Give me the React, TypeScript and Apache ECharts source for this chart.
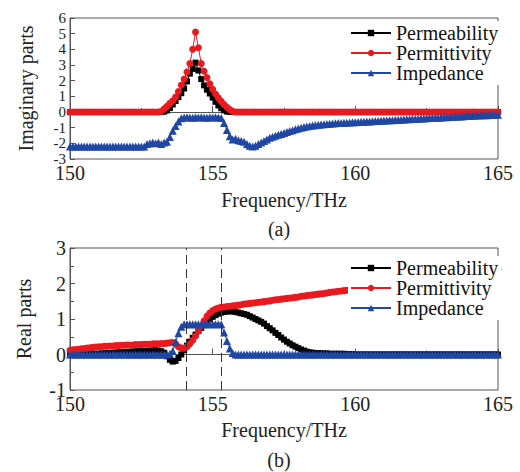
import React, { useEffect, useRef } from "react";
import * as echarts from "echarts";

// Sampling grid of the frequency axis (THz): 150.0 .. 165.0, one sample per 0.1 THz
const FREQ_START = 150;
const FREQ_STEP = 0.1;

// (a) Imaginary parts
const IM_PERMEABILITY = [
  0, 0, 0, 0, 0, 0, 0, 0, 0, 0,
  0, 0, 0, 0, 0, 0, 0, 0, 0, 0,
  0, 0, 0, 0, 0, 0, 0, 0, 0, 0,
  0, 0, 0, 0.02, 0.1, 0.25, 0.48, 0.7, 0.95, 1.2,
  1.5, 1.95, 2.45, 2.75, 3.15, 2.65, 2.1, 1.7, 1.42, 1.18,
  0.92, 0.65, 0.42, 0.24, 0.1, 0.03, 0, 0, 0, 0,
  0, 0, 0, 0, 0, 0, 0, 0, 0, 0,
  0, 0, 0, 0, 0, 0, 0, 0, 0, 0,
  0, 0, 0, 0, 0, 0, 0, 0, 0, 0,
  0, 0, 0, 0, 0, 0, 0, 0, 0, 0,
  0, 0, 0, 0, 0, 0, 0, 0, 0, 0,
  0, 0, 0, 0, 0, 0, 0, 0, 0, 0,
  0, 0, 0, 0, 0, 0, 0, 0, 0, 0,
  0, 0, 0, 0, 0, 0, 0, 0, 0, 0,
  0, 0, 0, 0, 0, 0, 0, 0, 0, 0,
  0,
];
const IM_PERMITTIVITY = [
  0, 0, 0, 0, 0, 0, 0, 0, 0, 0,
  0, 0, 0, 0, 0, 0, 0, 0, 0, 0,
  0, 0, 0, 0, 0, 0, 0, 0, 0, 0,
  0, 0, 0.05, 0.2, 0.36, 0.55, 0.72, 0.95, 1.3, 1.72,
  2.1, 2.55, 3.1, 4.0, 5.1, 4.1, 3.1, 2.6, 2.2, 1.8,
  1.45, 1.15, 0.9, 0.68, 0.48, 0.3, 0.15, 0.05, 0, 0,
  0, 0, 0, 0, 0, 0, 0, 0, 0, 0,
  0, 0, 0, 0, 0, 0, 0, 0, 0, 0,
  0, 0, 0, 0, 0, 0, 0, 0, 0, 0,
  0, 0, 0, 0, 0, 0, 0, 0, 0, 0,
  0, 0, 0, 0, 0, 0, 0, 0, 0, 0,
  0, 0, 0, 0, 0, 0, 0, 0, 0, 0,
  0, 0, 0, 0, 0, 0, 0, 0, 0, 0,
  0, 0, 0, 0, 0, 0, 0, 0, 0, 0,
  0, 0, 0, 0, 0, 0, 0, 0, 0, 0,
  0,
];
const IM_IMPEDANCE = [
  -2.2, -2.2, -2.2, -2.2, -2.2, -2.2, -2.2, -2.2, -2.2, -2.2,
  -2.2, -2.2, -2.2, -2.2, -2.2, -2.2, -2.2, -2.2, -2.2, -2.2,
  -2.2, -2.2, -2.2, -2.2, -2.2, -2.2, -2.2, -2.05, -2.0, -1.95,
  -2.0, -1.95, -2.05, -1.95, -1.9, -1.6, -1.2, -0.9, -0.6, -0.4,
  -0.35, -0.33, -0.35, -0.36, -0.34, -0.35, -0.33, -0.35, -0.36, -0.34,
  -0.35, -0.34, -0.35, -0.38, -0.7, -1.15, -1.55, -1.75, -1.7, -1.8,
  -1.85, -1.9, -2.05, -2.15, -2.2, -2.15, -2.05, -1.95, -1.85, -1.75,
  -1.65, -1.58, -1.52, -1.45, -1.4, -1.34, -1.28, -1.22, -1.16, -1.1,
  -1.05, -1.0, -0.96, -0.92, -0.89, -0.86, -0.84, -0.82, -0.8, -0.78,
  -0.76, -0.75, -0.74, -0.72, -0.71, -0.7, -0.69, -0.68, -0.67, -0.66,
  -0.65, -0.64, -0.63, -0.62, -0.61, -0.6, -0.59, -0.58, -0.57, -0.56,
  -0.55, -0.54, -0.53, -0.52, -0.51, -0.5, -0.49, -0.48, -0.47, -0.46,
  -0.45, -0.44, -0.43, -0.42, -0.41, -0.4, -0.39, -0.38, -0.37, -0.36,
  -0.35, -0.34, -0.33, -0.32, -0.31, -0.3, -0.29, -0.28, -0.27, -0.26,
  -0.25, -0.24, -0.23, -0.22, -0.21, -0.2, -0.2, -0.19, -0.19, -0.18,
  -0.18,
];

// (b) Real parts
const RE_PERMEABILITY = [
  0, 0, 0, 0, 0, 0.01, 0.01, 0.01, 0.02, 0.02,
  0.02, 0.03, 0.03, 0.04, 0.04, 0.05, 0.05, 0.06, 0.06, 0.07,
  0.07, 0.08, 0.08, 0.09, 0.09, 0.1, 0.1, 0.1, 0.11, 0.11,
  0.12, 0.11, 0.09, 0.05, -0.05, -0.15, -0.2, -0.18, -0.1, 0.0,
  0.12, 0.25, 0.36, 0.47, 0.56, 0.66, 0.75, 0.84, 0.93, 1.0,
  1.06, 1.11, 1.15, 1.18, 1.2, 1.21, 1.22, 1.21, 1.2, 1.18,
  1.16, 1.14, 1.12, 1.08, 1.04, 1.0, 0.96, 0.92, 0.87, 0.8,
  0.74, 0.68, 0.61, 0.55, 0.48, 0.42, 0.36, 0.31, 0.26, 0.22,
  0.18, 0.14, 0.11, 0.08, 0.06, 0.05, 0.04, 0.04, 0.03, 0.03,
  0.03, 0.02, 0.02, 0.02, 0.02, 0.02, 0.02, 0.01, 0.01, 0.01,
  0, 0, 0, 0, 0, 0, 0, 0, 0, 0,
  0, 0, 0, 0, 0, 0, 0, 0, 0, 0,
  0, 0, 0, 0, 0, 0, 0, 0, 0, 0,
  0, 0, 0, 0, 0, 0, 0, 0, 0, 0,
  0, 0, 0, 0, 0, 0, 0, 0, 0, 0,
  0,
];
const RE_PERMITTIVITY = [
  0.12, 0.13, 0.14, 0.15, 0.16, 0.17, 0.18, 0.19, 0.2, 0.21,
  0.22, 0.22, 0.23, 0.23, 0.24, 0.24, 0.25, 0.25, 0.26, 0.26,
  0.27, 0.27, 0.27, 0.28, 0.28, 0.28, 0.29, 0.29, 0.29, 0.3,
  0.3, 0.3, 0.31, 0.31, 0.32, 0.33, 0.34, 0.3, 0.22, 0.18,
  0.18, 0.22, 0.3, 0.4, 0.52, 0.66, 0.8, 0.95, 1.08, 1.17,
  1.24, 1.28, 1.31, 1.33, 1.34, 1.35, 1.36, 1.37, 1.38, 1.39,
  1.4, 1.42, 1.43, 1.44, 1.45, 1.46, 1.47, 1.48, 1.49, 1.5,
  1.51, 1.53, 1.54, 1.55, 1.56, 1.57, 1.58, 1.59, 1.6, 1.61,
  1.62, 1.64, 1.65, 1.66, 1.67, 1.68, 1.69, 1.7, 1.71, 1.72,
  1.73, 1.75, 1.76, 1.77, 1.78, 1.79, 1.8, 1.81, 1.82, 1.83,
  1.84, 1.85, 1.86, 1.88, 1.89, 1.9, 1.91, 1.92, 1.93, 1.94,
  1.95, 1.96, 1.97, 1.99, 2.0, 2.01, 2.02, 2.03, 2.04, 2.05,
  2.06, 2.07, 2.08, 2.1, 2.11, 2.12, 2.13, 2.14, 2.15, 2.16,
  2.17, 2.18, 2.19, 2.21, 2.22, 2.23, 2.24, 2.25, 2.26, 2.27,
  2.28, 2.29, 2.3, 2.32, 2.33, 2.34, 2.35, 2.36, 2.37, 2.38,
  2.4,
];
const RE_IMPEDANCE = [
  0, 0, 0, 0, 0, 0, 0, 0, 0, 0,
  0, 0, 0, 0, 0, 0, 0, 0, 0, 0,
  0, 0, 0, 0, 0, 0, 0, 0, 0, 0,
  0, 0, 0, 0, 0, 0.02, 0.1, 0.35, 0.6, 0.78,
  0.85, 0.85, 0.85, 0.85, 0.85, 0.85, 0.85, 0.85, 0.85, 0.85,
  0.85, 0.85, 0.85, 0.85, 0.62, 0.38, 0.17, 0.04, 0, 0,
  0, 0, 0, 0, 0, 0, 0, 0, 0, 0,
  0, 0, 0, 0, 0, 0, 0, 0, 0, 0,
  0, 0, 0, 0, 0, 0, 0, 0, 0, 0,
  0, 0, 0, 0, 0, 0, 0, 0, 0, 0,
  0, 0, 0, 0, 0, 0, 0, 0, 0, 0,
  0, 0, 0, 0, 0, 0, 0, 0, 0, 0,
  0, 0, 0, 0, 0, 0, 0, 0, 0, 0,
  0, 0, 0, 0, 0, 0, 0, 0, 0, 0,
  0, 0, 0, 0, 0, 0, 0, 0, 0, 0,
  0,
];

// Dashed reference lines in (b), THz
const DASH_LINES = [154.07, 155.3];

const SERIES_NAMES = ["Permeability", "Permittivity", "Impedance"];
const X_TICKS = { min: 150, max: 165, interval: 5 };
const Y_TOP = { min: -3, max: 6, interval: 1 };
const Y_BOTTOM = { min: -1, max: 3, interval: 1 };

const FREQ = IM_PERMEABILITY.map((_, i) => +(FREQ_START + i * FREQ_STEP).toFixed(1));
const pairs = (ys: number[]) => ys.map((y, i) => [FREQ[i], y]);

const FONT = "'Liberation Serif', 'Times New Roman', serif";
const AXIS_COLOR = "#555";
const TEXT_COLOR = "#222";
const COLORS = ["#000000", "#e8191f", "#1f47a3"];
const SYMBOLS = ["rect", "circle", "triangle"];
const SYMBOL_SIZES = [6, 7, 8];

export default function App() {
  const ref = useRef<HTMLDivElement>(null);

  useEffect(() => {
    if (!ref.current) return;
    const chart = echarts.init(ref.current, undefined, { renderer: "svg" });

    const xAxisFor = (gridIndex: number, nameGap: number) => ({
      type: "value",
      gridIndex,
      min: X_TICKS.min,
      max: X_TICKS.max,
      interval: X_TICKS.interval,
      axisLine: { show: true, lineStyle: { color: AXIS_COLOR, width: 1 } },
      axisTick: { show: true, inside: true, length: 6, lineStyle: { color: AXIS_COLOR } },
      minorTick: { show: true, splitNumber: 2, length: 4, lineStyle: { color: AXIS_COLOR } },
      splitLine: { show: false },
      axisLabel: { color: TEXT_COLOR, fontFamily: FONT, fontSize: 20, margin: 4, showMinLabel: true, showMaxLabel: true },
      name: "Frequency/THz",
      nameLocation: "middle",
      nameGap,
      nameTextStyle: { color: TEXT_COLOR, fontFamily: FONT, fontSize: 20 },
    });

    const yAxisFor = (gridIndex: number, r: { min: number; max: number; interval: number }, name: string, minor: boolean, nameGap: number, fs: number) => ({
      type: "value",
      gridIndex,
      min: r.min,
      max: r.max,
      interval: r.interval,
      axisLine: { show: true, lineStyle: { color: AXIS_COLOR, width: 1 } },
      axisTick: { show: true, inside: true, length: 5, lineStyle: { color: AXIS_COLOR } },
      minorTick: { show: minor, splitNumber: 2, length: 4, lineStyle: { color: AXIS_COLOR } },
      splitLine: { show: false },
      axisLabel: {
        color: TEXT_COLOR,
        fontFamily: FONT,
        fontSize: fs,
        margin: 4,
        showMinLabel: true,
        showMaxLabel: true,
        hideOverlap: false,
      },
      name,
      nameLocation: "middle",
      nameGap,
      nameTextStyle: { color: TEXT_COLOR, fontFamily: FONT, fontSize: 20 },
    });

    const topData = [IM_PERMEABILITY, IM_PERMITTIVITY, IM_IMPEDANCE];
    const bottomData = [RE_PERMEABILITY, RE_PERMITTIVITY, RE_IMPEDANCE];

    const mkSeries = (data: number[][], axisIndex: number) =>
      data.map((ys, k) => ({
        type: "line",
        name: SERIES_NAMES[k],
        xAxisIndex: axisIndex,
        yAxisIndex: axisIndex,
        data: pairs(ys),
        symbol: SYMBOLS[k],
        symbolSize: SYMBOL_SIZES[k],
        showSymbol: true,
        showAllSymbol: true,
        color: COLORS[k],
        lineStyle: { color: COLORS[k], width: 1 },
        itemStyle: { color: COLORS[k] },
        z: 2 + k,
        ...(axisIndex === 1 && k === 2
          ? {
              markLine: {
                silent: true,
                symbol: ["none", "none"],
                label: { show: false },
                lineStyle: { color: "#333", type: [9, 5], width: 1 },
                data: DASH_LINES.map((x) => ({ xAxis: x })),
              },
            }
          : {}),
      }));

    const legendFor = (top: number, lineHeight: number) => ({
      orient: "vertical",
      left: 348,
      top,
      itemWidth: 40,
      itemHeight: 8,
      itemGap: 0,
      padding: [2, 3, 2, 2],
      backgroundColor: "#ffffff",
      textStyle: { color: "#111", fontFamily: FONT, fontSize: 20, lineHeight },
      data: SERIES_NAMES,
      selectedMode: false,
    });

    chart.setOption({
      animation: false,
      backgroundColor: "#ffffff",
      grid: [
        { left: 70, top: 18, width: 428, height: 141, show: true, borderColor: AXIS_COLOR, borderWidth: 1, backgroundColor: "transparent" },
        { left: 70, top: 248, width: 428, height: 142, show: true, borderColor: AXIS_COLOR, borderWidth: 1, backgroundColor: "transparent" },
      ],
      xAxis: [xAxisFor(0, 31), xAxisFor(1, 30)],
      yAxis: [
        yAxisFor(0, Y_TOP, "Imaginary parts", false, 34, 15),
        yAxisFor(1, Y_BOTTOM, "Real parts", true, 36, 20),
      ],
      legend: [legendFor(21, 19.5), legendFor(256, 17.5)],
      series: [...mkSeries(topData, 0), ...mkSeries(bottomData, 1)],
      graphic: [
        { type: "text", x: 279, y: 229, style: { text: "(a)", fill: TEXT_COLOR, font: `20px ${FONT}`, align: "center", verticalAlign: "middle" } },
        { type: "text", x: 279, y: 460, style: { text: "(b)", fill: TEXT_COLOR, font: `20px ${FONT}`, align: "center", verticalAlign: "middle" } },
      ],
    });

    return () => chart.dispose();
  }, []);

  return (
    <div
      ref={ref}
      style={{ position: "fixed", left: 0, top: 0, width: 520, height: 472, background: "#fff" }}
    />
  );
}
